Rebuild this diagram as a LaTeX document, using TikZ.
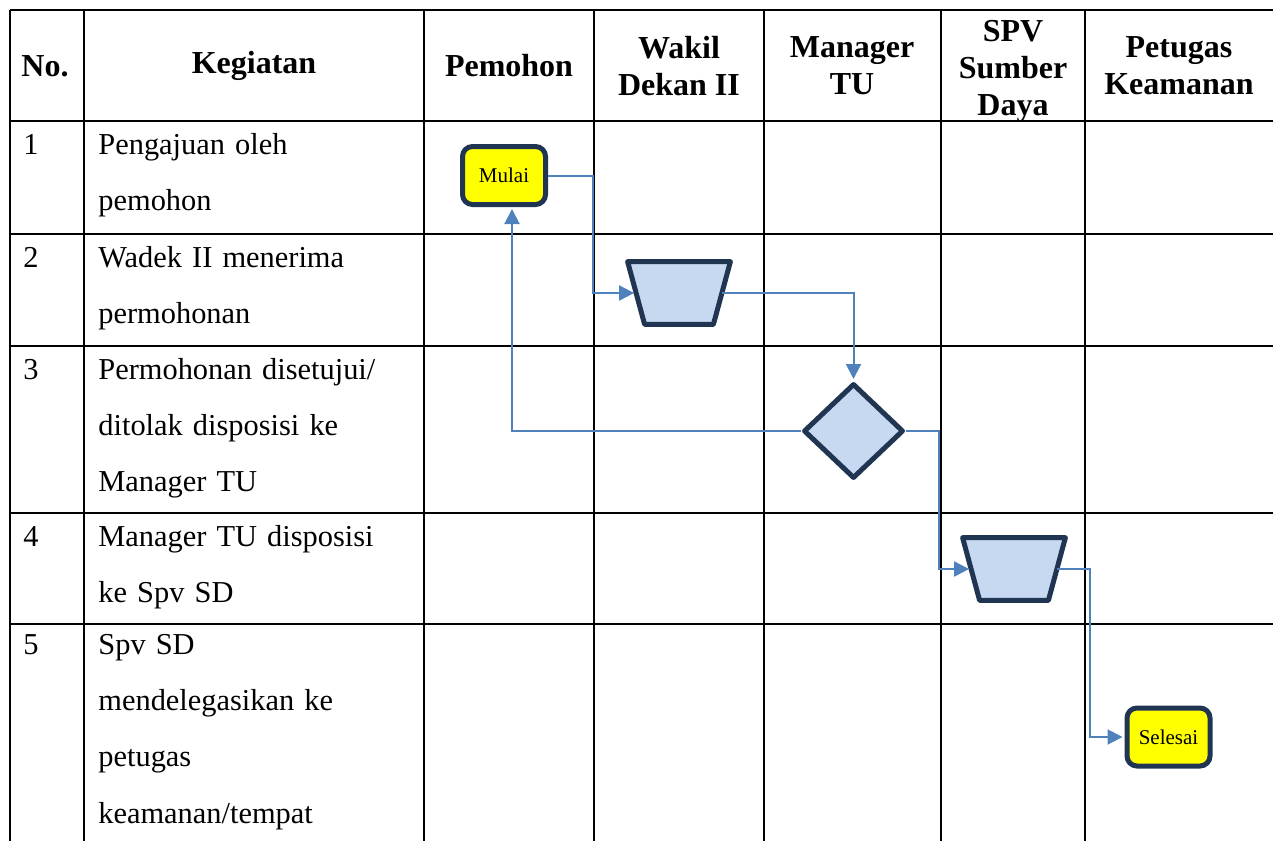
\documentclass[tikz,border=0pt]{standalone}
\usepackage{fontspec}
\setmainfont{Liberation Serif}
\usetikzlibrary{shapes.geometric, arrows.meta, positioning, calc}
\definecolor{navy}{RGB}{31,53,82}
\definecolor{lightblue}{RGB}{198,217,241}
\definecolor{flowblue}{RGB}{79,129,189}
\definecolor{termyellow}{RGB}{255,255,0}

\begin{document}
\begin{tikzpicture}[
    x=0.5pt, y=-0.5pt,
    % styles
    grid_line/.style={
        draw=black, line width=1pt
    },
    head_text/.style={
        align=center, inner sep=0pt, font=\fontsize{16}{18.5}\selectfont\bfseries
    },
    num_text/.style={
        anchor=base west, inner sep=0pt, font=\fontsize{15.2}{28.2}\selectfont
    },
    step_text/.style={
        anchor=base west, inner sep=0pt, text width=165pt, align=left,
        font=\fontsize{15.2}{28.2}\selectfont
    },
    terminal/.style={
        draw=navy, line width=2.5pt, fill=termyellow, rounded corners=5pt,
        minimum width=41.5pt, minimum height=29pt, inner sep=0pt,
        font=\fontsize{10.5}{12}\selectfont
    },
    op_box/.style={
        rectangle, minimum width=51pt, minimum height=31pt, inner sep=0pt
    },
    op_shape/.style={
        draw=navy, line width=2.5pt, fill=lightblue, line join=round
    },
    decision/.style={
        diamond, draw=navy, line width=2.5pt, fill=lightblue,
        minimum width=50pt, minimum height=47.5pt, inner sep=0pt, line join=round
    },
    flow/.style={
        -{Triangle[length=7.5pt, width=7.5pt]}, draw=flowblue, line width=1pt, shorten >=1pt
    }
]
    \useasboundingbox (0,0) rectangle (1273,841);

    % --- 1. TABLE GRID ---
    \draw[grid_line] (10,10) -- (1273,10);
    \draw[grid_line] (10,121) -- (1273,121);
    \draw[grid_line] (10,234) -- (1273,234);
    \draw[grid_line] (10,346) -- (1273,346);
    \draw[grid_line] (10,513) -- (1273,513);
    \draw[grid_line] (10,624) -- (1273,624);

    \draw[grid_line] (10,10) -- (10,841);
    \draw[grid_line] (84,10) -- (84,841);
    \draw[grid_line] (424,10) -- (424,841);
    \draw[grid_line] (594,10) -- (594,841);
    \draw[grid_line] (764,10) -- (764,841);
    \draw[grid_line] (941,10) -- (941,841);
    \draw[grid_line] (1085,10) -- (1085,841);

    % --- 2. HEADER ---
    \node[head_text] (h_no) at (45,66) {No.};
    \node[head_text] (h_kegiatan) at (254,66) {Kegiatan};
    \node[head_text] (h_pemohon) at (509,66) {Pemohon};
    \node[head_text] (h_wadek) at (679,66) {Wakil\\Dekan II};
    \node[head_text] (h_mgr) at (852,66) {Manager\\TU};
    \node[head_text] (h_spv) at (1013,71) {SPV\\Sumber\\Daya};
    \node[head_text] (h_petugas) at (1179,66) {Petugas\\Keamanan};

    % --- 3. ROWS (No. + Kegiatan) ---
    \node[num_text] (n1) at (23,154) {1};
    \node[step_text] (k1) at (98,154) {Pengajuan oleh\\pemohon};
    \node[num_text] (n2) at (23,267) {2};
    \node[step_text] (k2) at (98,267) {Wadek II menerima\\permohonan};
    \node[num_text] (n3) at (23,379) {3};
    \node[step_text] (k3) at (98,379) {Permohonan disetujui/\\ditolak disposisi ke\\Manager TU};
    \node[num_text] (n4) at (23,546) {4};
    \node[step_text] (k4) at (98,546) {Manager TU disposisi\\ke Spv SD};
    \node[num_text] (n5) at (23,654) {5};
    \node[step_text] (k5) at (98,654) {Spv SD\\mendelegasikan ke\\petugas\\keamanan/tempat};

    % --- 4. FLOW SHAPES ---
    \node[terminal] (mulai) at (504,175.5) {Mulai};

    % manual operation (Wadek II)
    \node[op_box] (wadek) at (679,293) {};
    \draw[op_shape] (wadek.north west) -- (wadek.north east)
        -- ([xshift=-8.5pt]wadek.south east) -- ([xshift=8.5pt]wadek.south west) -- cycle;

    \node[decision] (cek) at (853.5,431) {};

    % manual operation (Spv SD)
    \node[op_box] (spv) at (1014,569) {};
    \draw[op_shape] (spv.north west) -- (spv.north east)
        -- ([xshift=-8.5pt]spv.south east) -- ([xshift=8.5pt]spv.south west) -- cycle;

    \node[terminal] (selesai) at (1168.5,737) {Selesai};

    % --- 5. CONNECTORS ---
    \draw[flow] (mulai.east) -- ++(45,0) |- ([xshift=4.25pt]wadek.west);
    \draw[flow] ([xshift=-4.25pt]wadek.east) -| (cek.north);
    \draw[flow] (cek.west) -| ([xshift=4pt]mulai.south);
    \draw[flow] (cek.east) -- ++(33,0) |- ([xshift=4.25pt]spv.west);
    \draw[flow] ([xshift=-4.25pt]spv.east) -- ++(33,0) |- (selesai.west);

\end{tikzpicture}
\end{document}
